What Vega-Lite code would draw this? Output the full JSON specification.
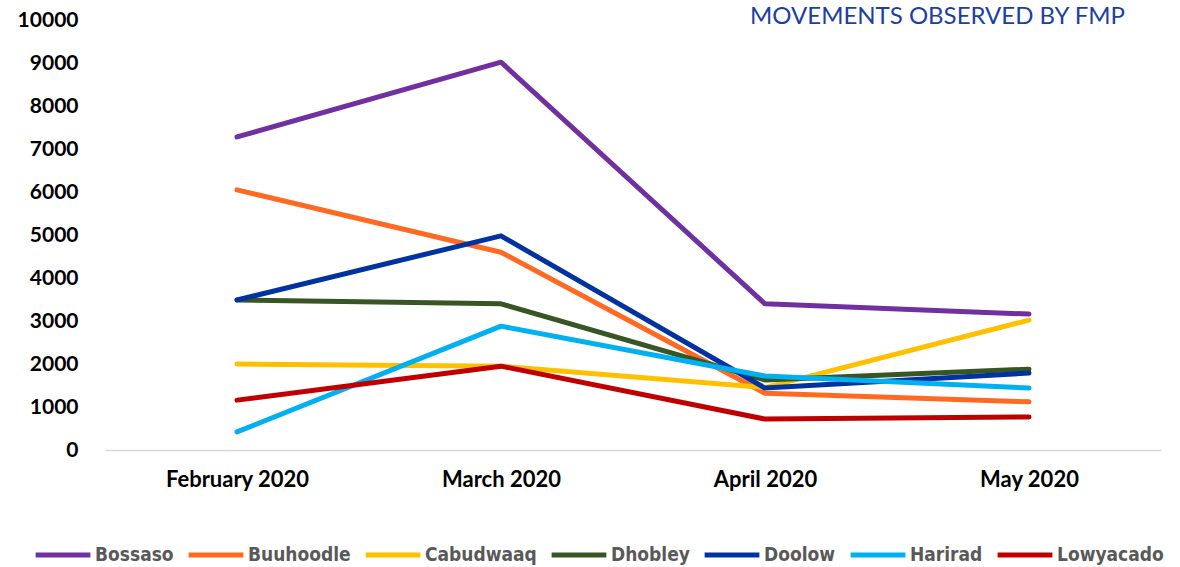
{
  "$schema": "https://vega.github.io/schema/vega-lite/v6.json",
  "autosize": {"type": "none"},
  "width": 1056,
  "height": 430,
  "padding": {"left": 105, "top": 20, "right": 19, "bottom": 117},
  "background": "white",
  "config": {"view": {"stroke": null}},
  "title": {
    "text": "MOVEMENTS OBSERVED BY FMP",
    "anchor": "end",
    "frame": "group",
    "font": "Lato",
    "fontSize": 24,
    "fontWeight": "normal",
    "color": "#1C3FA3",
    "baseline": "top",
    "offset": 0,
    "dy": 20,
    "dx": -36
  },
  "data": {
    "values": [
      {"month": "February 2020", "site": "Bossaso", "value": 7280},
      {"month": "March 2020", "site": "Bossaso", "value": 9020},
      {"month": "April 2020", "site": "Bossaso", "value": 3400},
      {"month": "May 2020", "site": "Bossaso", "value": 3160},
      {"month": "February 2020", "site": "Buuhoodle", "value": 6050},
      {"month": "March 2020", "site": "Buuhoodle", "value": 4600},
      {"month": "April 2020", "site": "Buuhoodle", "value": 1320},
      {"month": "May 2020", "site": "Buuhoodle", "value": 1120},
      {"month": "February 2020", "site": "Cabudwaaq", "value": 2000},
      {"month": "March 2020", "site": "Cabudwaaq", "value": 1950},
      {"month": "April 2020", "site": "Cabudwaaq", "value": 1450},
      {"month": "May 2020", "site": "Cabudwaaq", "value": 3020},
      {"month": "February 2020", "site": "Dhobley", "value": 3490},
      {"month": "March 2020", "site": "Dhobley", "value": 3400},
      {"month": "April 2020", "site": "Dhobley", "value": 1630},
      {"month": "May 2020", "site": "Dhobley", "value": 1880},
      {"month": "February 2020", "site": "Doolow", "value": 3490},
      {"month": "March 2020", "site": "Doolow", "value": 4980},
      {"month": "April 2020", "site": "Doolow", "value": 1440},
      {"month": "May 2020", "site": "Doolow", "value": 1790},
      {"month": "February 2020", "site": "Harirad", "value": 420},
      {"month": "March 2020", "site": "Harirad", "value": 2880},
      {"month": "April 2020", "site": "Harirad", "value": 1720},
      {"month": "May 2020", "site": "Harirad", "value": 1440},
      {"month": "February 2020", "site": "Lowyacado", "value": 1160},
      {"month": "March 2020", "site": "Lowyacado", "value": 1950},
      {"month": "April 2020", "site": "Lowyacado", "value": 720},
      {"month": "May 2020", "site": "Lowyacado", "value": 770}
    ]
  },
  "mark": {"type": "line", "strokeWidth": 5, "strokeCap": "round", "strokeJoin": "round"},
  "encoding": {
    "x": {
      "field": "month",
      "type": "nominal",
      "sort": ["February 2020", "March 2020", "April 2020", "May 2020"],
      "scale": {"type": "point", "padding": 0.5},
      "axis": {
        "title": null,
        "labelAngle": 0,
        "labelFont": "Lato",
        "labelFontWeight": "bold",
        "labelFontSize": 22,
        "labelColor": "#000000",
        "labelPadding": 19,
        "ticks": false,
        "domainColor": "#D9D9D9",
        "domainWidth": 1.5,
        "grid": false
      }
    },
    "y": {
      "field": "value",
      "type": "quantitative",
      "scale": {"domain": [0, 10000], "nice": false},
      "axis": {
        "title": null,
        "values": [0, 1000, 2000, 3000, 4000, 5000, 6000, 7000, 8000, 9000, 10000],
        "format": "d",
        "labelFont": "Lato",
        "labelFontWeight": "bold",
        "labelFontSize": 21,
        "labelColor": "#000000",
        "labelPadding": 27,
        "ticks": false,
        "domain": false,
        "grid": false
      }
    },
    "color": {
      "field": "site",
      "type": "nominal",
      "scale": {
        "domain": ["Bossaso", "Buuhoodle", "Cabudwaaq", "Dhobley", "Doolow", "Harirad", "Lowyacado"],
        "range": ["#7030A0", "#FF6A22", "#FFC000", "#375623", "#0033A0", "#00B0F0", "#C00000"]
      },
      "legend": {
        "title": null,
        "orient": "none",
        "direction": "horizontal",
        "legendX": -72,
        "legendY": 505,
        "padding": 0,
        "symbolType": "stroke",
        "symbolSize": 3000,
        "symbolStrokeWidth": 5,
        "labelFont": "'DejaVu Sans Condensed', 'Liberation Sans Narrow', 'Roboto Condensed', sans-serif",
        "labelFontWeight": "bold",
        "labelFontSize": 19,
        "labelColor": "#595959",
        "labelOffset": 2,
        "columnPadding": 4
      }
    }
  }
}
